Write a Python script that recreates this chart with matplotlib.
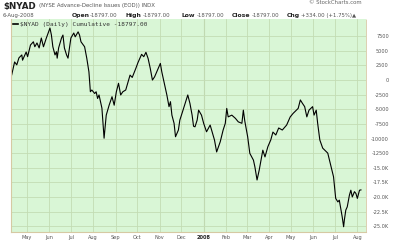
import pandas as pd
import matplotlib
matplotlib.use('Agg')
import matplotlib.pyplot as plt

# $NYAD cumulative advance-decline line
dates = ['2007-04-10', '2007-04-14', '2007-04-17', '2007-04-20', '2007-04-24', '2007-04-25',
         '2007-04-30', '2007-05-02', '2007-05-06', '2007-05-10', '2007-05-12', '2007-05-15',
         '2007-05-18', '2007-05-21', '2007-05-24', '2007-05-28', '2007-06-02', '2007-06-04',
         '2007-06-06', '2007-06-09', '2007-06-11', '2007-06-12', '2007-06-14', '2007-06-18',
         '2007-06-20', '2007-06-22', '2007-06-25', '2007-06-27', '2007-06-29', '2007-07-01',
         '2007-07-05', '2007-07-07', '2007-07-11', '2007-07-13', '2007-07-15', '2007-07-20',
         '2007-07-23', '2007-07-26', '2007-07-28', '2007-07-30', '2007-08-03', '2007-08-05',
         '2007-08-07', '2007-08-09', '2007-08-13', '2007-08-16', '2007-08-19', '2007-08-23',
         '2007-08-27', '2007-08-30', '2007-09-02', '2007-09-05', '2007-09-08', '2007-09-11',
         '2007-09-15', '2007-09-17', '2007-09-21', '2007-09-24', '2007-09-29', '2007-10-02',
         '2007-10-07', '2007-10-10', '2007-10-13', '2007-10-16', '2007-10-19', '2007-10-22',
         '2007-10-25', '2007-10-29', '2007-11-02', '2007-11-04', '2007-11-08', '2007-11-11',
         '2007-11-14', '2007-11-16', '2007-11-18', '2007-11-21', '2007-11-23', '2007-11-27',
         '2007-11-29', '2007-12-02', '2007-12-07', '2007-12-10', '2007-12-13', '2007-12-16',
         '2007-12-18', '2007-12-20', '2007-12-23', '2007-12-25', '2007-12-29', '2008-01-01',
         '2008-01-05', '2008-01-10', '2008-01-12', '2008-01-16', '2008-01-19', '2008-01-24',
         '2008-01-28', '2008-01-31', '2008-02-02', '2008-02-04', '2008-02-09', '2008-02-14',
         '2008-02-18', '2008-02-23', '2008-02-25', '2008-02-27', '2008-03-02', '2008-03-05',
         '2008-03-10', '2008-03-12', '2008-03-15', '2008-03-18', '2008-03-23', '2008-03-26',
         '2008-03-30', '2008-04-03', '2008-04-06', '2008-04-10', '2008-04-14', '2008-04-19',
         '2008-04-25', '2008-04-30', '2008-05-04', '2008-05-11', '2008-05-14', '2008-05-17',
         '2008-05-20', '2008-05-23', '2008-05-26', '2008-05-31', '2008-06-02', '2008-06-05',
         '2008-06-07', '2008-06-10', '2008-06-14', '2008-06-21', '2008-06-24', '2008-06-29',
         '2008-07-02', '2008-07-05', '2008-07-07', '2008-07-09', '2008-07-11', '2008-07-13',
         '2008-07-14', '2008-07-16', '2008-07-18', '2008-07-21', '2008-07-23', '2008-07-25',
         '2008-07-28', '2008-07-30', '2008-08-01', '2008-08-04', '2008-08-06']
nyad = [900, 3100, 2600, 3800, 4300, 3400,
        4800, 4000, 6000, 6550, 5700, 6350,
        5500, 7200, 5700, 7200, 8900, 7700,
        5700, 4300, 4850, 3750, 5500, 7200,
        7700, 5500, 4300, 3750, 5500, 7200,
        8050, 7400, 8250, 7700, 6550, 5700,
        3750, 1400, -2000, -1700, -2300, -2000,
        -3150, -2550, -4800, -9950, -6000, -4300,
        -2850, -4300, -2000, -550, -2550, -2000,
        -1700, -850, 850, 450, 2000, 3000,
        4400, 4000, 4750, 3700, 2000, 0,
        550, 1700, 2850, 1400, -850, -2550,
        -4550, -3700, -6000, -7400, -9700, -8550,
        -6850, -5700, -3700, -2550, -4000, -6000,
        -7900, -8000, -6850, -5150, -6000, -7400,
        -8850, -7700, -8550, -10250, -12300, -10550,
        -8550, -7400, -4850, -6300, -6000, -6550,
        -7150, -7400, -5150, -7000, -9700, -12550,
        -13700, -14850, -17100, -15400, -12000, -13150,
        -11400, -10250, -8900, -9400, -8200, -8550,
        -7700, -6300, -5700, -4850, -3400, -4000,
        -4550, -6300, -5150, -4550, -6000, -5150,
        -7400, -10250, -11650, -12500, -14000, -16550,
        -20250, -20850, -20550, -21950, -23400, -25100,
        -23950, -22250, -21700, -19700, -18850, -20000,
        -19100, -19400, -20250, -18850, -18797]

month_ticks = ['2007-05-01', '2007-06-01', '2007-07-01', '2007-08-01', '2007-09-01',
               '2007-10-01', '2007-11-01', '2007-12-01', '2008-01-01', '2008-02-01',
               '2008-03-01', '2008-04-01', '2008-05-01', '2008-06-01', '2008-07-01',
               '2008-08-01']
month_labels = ['May', 'Jun', 'Jul', 'Aug', 'Sep', 'Oct', 'Nov', 'Dec', '2008',
                'Feb', 'Mar', 'Apr', 'May', 'Jun', 'Jul', 'Aug']
y_ticks = [7500, 5000, 2500, 0, -2500, -5000, -7500, -10000, -12500,
           -15000, -17500, -20000, -22500, -25000]
y_labels = ['7500', '5000', '2500', '0', '-2500', '-5000', '-7500', '-10000', '-12500',
            '-15.0K', '-17.5K', '-20.0K', '-22.5K', '-25.0K']

x = pd.to_datetime(dates)
xt = pd.to_datetime(month_ticks)

W, H = 400, 243
fig = plt.figure(figsize=(4.0, 2.43), dpi=100)
ax = fig.add_axes([11 / W, 1 - 232 / H, 355 / W, 213 / H])
ax.set_facecolor('#d9f6d6')

ax.plot(x, nyad, color='black', lw=0.8)

ax.set_xlim(pd.Timestamp('2007-04-09'), pd.Timestamp('2008-08-13'))
ax.set_ylim(-26000, 10450)

ax.set_yticks(y_ticks)
ax.set_yticklabels(y_labels)
ax.yaxis.tick_right()
ax.tick_params(axis='y', length=0, pad=16.5, labelsize=3.6, labelcolor='#555555')
for lab in ax.get_yticklabels():
    lab.set_horizontalalignment('right')

ax.set_xticks(xt)
ax.set_xticklabels(month_labels)
ax.tick_params(axis='x', length=0, pad=2, labelsize=3.6, labelcolor='#555555')
for lab in ax.get_xticklabels():
    if lab.get_text() == '2008':
        lab.set_fontweight('bold')
        lab.set_color('#222222')

ax.grid(True, color='#c3dcb4', lw=0.6)
ax.set_axisbelow(True)
ax.axvline(pd.Timestamp('2008-01-01'), color='#b6cfa6', lw=0.8, zorder=0.5)

for s in ['top']:
    ax.spines[s].set_visible(False)
ax.spines['left'].set_color('#d6c9a3')
ax.spines['bottom'].set_color('#d6c9a3')
ax.spines['right'].set_color('#d6c9a3')
ax.spines['right'].set_linestyle((0, (1, 1)))
ax.spines['right'].set_linewidth(0.6)

# in-plot legend
ax.plot([0.005, 0.02], [0.975, 0.975], transform=ax.transAxes, color='black', lw=1.2)
ax.text(0.025, 0.975, '$NYAD (Daily) Cumulative -18797.00', transform=ax.transAxes,
        family='DejaVu Sans Mono', fontsize=4.4, color='#333333', va='center')

# header text
def px(xp, yp, s, **kw):
    fig.text(xp / W, 1 - yp / H, s, va='center', **kw)

px(3, 6, '$NYAD', fontsize=6.3, fontweight='bold', color='#222222')
px(39, 6, '(NYSE Advance-Decline Issues (EOD)) INDX', fontsize=3.9, color='#555555')
px(309, 3, '© StockCharts.com', fontsize=3.9, color='#666666')
px(3, 15, '6-Aug-2008', fontsize=3.9, color='#555555')
for xp, s, bold in [(72, 'Open', True), (90, '-18797.00', False),
                    (125, 'High', True), (143, '-18797.00', False),
                    (182, 'Low', True), (197, '-18797.00', False),
                    (232, 'Close', True), (252, '-18797.00', False),
                    (287, 'Chg', True), (301, '+334.00 (+1.75%)\u25b2', False)]:
    if bold:
        px(xp, 15, s, fontsize=4.4, fontweight='bold', color='#222222')
    else:
        px(xp, 15, s, fontsize=3.9, color='#555555')

fig.savefig('out.png', dpi=100)
